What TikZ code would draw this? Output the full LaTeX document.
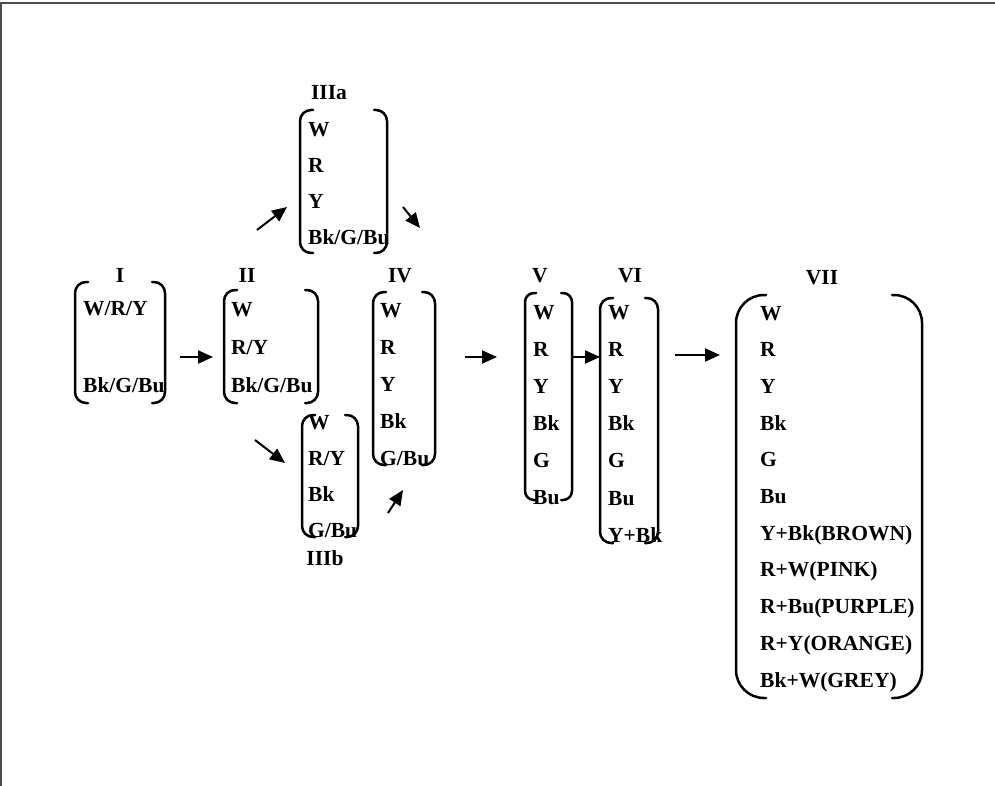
\documentclass[tikz,border=0pt]{standalone}
\usepackage{fontspec}
\setmainfont{Liberation Serif}
\usetikzlibrary{calc,arrows.meta}
\tikzset{
  frame/.style 2 args={inner sep=0pt, outer sep=0pt, minimum width=#1pt, minimum height=#2pt},
  item/.style={font=\fontsize{21.5}{25}\selectfont\bfseries, anchor=west, inner sep=0pt, text height=14pt, text depth=0pt},
  lbl/.style={font=\fontsize{21.5}{25}\selectfont\bfseries, inner sep=0pt, text height=14pt, text depth=0pt},
  brkline/.style={line width=2.5pt, line cap=round},
  arr/.style={line width=2pt, -{Triangle[length=15pt,width=13pt]}},
  border/.style={line width=1.6pt, black!70},
}
\newcommand\mybrackets[2][11]{%
  \draw[brkline, rounded corners=#1pt] ($(#2.north west)+(#1+2,0)$) -- (#2.north west) -- (#2.south west) -- ($(#2.south west)+(#1+2,0)$);
  \draw[brkline, rounded corners=#1pt] ($(#2.north east)+(-#1-2,0)$) -- (#2.north east) -- (#2.south east) -- ($(#2.south east)+(-#1-2,0)$);
}
\begin{document}
\begin{tikzpicture}[x=1pt,y=-1pt]
\useasboundingbox (0,0) rectangle (995,786);
\draw[border] (1,786) -- (1,3) -- (995,3);

% frames
\node[frame={90}{121}] (I) at (120,342.5) {};
\node[frame={94}{113}] (II) at (271,346.5) {};
\node[frame={87}{143}] (IIIa) at (343.5,181.5) {};
\node[frame={56}{122}] (IIIb) at (330,476) {};
\node[frame={62}{173}] (IV) at (404,378.5) {};
\node[frame={47}{207}] (V) at (548.5,396.5) {};
\node[frame={58}{245}] (VI) at (629,420.5) {};
\node[frame={186}{403}] (VII) at (829,496.5) {};

\mybrackets{I}
\mybrackets{II}
\mybrackets{IIIa}
\mybrackets{IIIb}
\mybrackets{IV}
\mybrackets[9]{V}
\mybrackets{VI}
\mybrackets[28]{VII}

% labels
\node[lbl] (lI) at (120,275) {I};
\node[lbl] (lII) at (247,275) {II};
\node[lbl] (lIIIa) at (329,93) {IIIa};
\node[lbl] (lIIIb) at (325,558) {IIIb};
\node[lbl] (lIV) at (400,275) {IV};
\node[lbl] (lV) at (540,275) {V};
\node[lbl] (lVI) at (630,275) {VI};
\node[lbl] (lVII) at (822,277) {VII};

% items
\node[item] (I-1) at (83,308) {W/R/Y};
\node[item] (I-2) at (83,385) {Bk/G/Bu};
\node[item] (II-1) at (231,309) {W};
\node[item] (II-2) at (231,347) {R/Y};
\node[item] (II-3) at (231,385) {Bk/G/Bu};
\foreach \t [count=\i] in {W,R,Y,Bk/G/Bu}
  \node[item] (IIIa-\i) at (308,{130+36*(\i-1)}) {\t};
\foreach \t [count=\i] in {W,R/Y,Bk,G/Bu}
  \node[item] (IIIb-\i) at (308,{422+36*(\i-1)}) {\t};
\foreach \t [count=\i] in {W,R,Y,Bk,G/Bu}
  \node[item] (IV-\i) at (380,{310+37*(\i-1)}) {\t};
\foreach \t [count=\i] in {W,R,Y,Bk,G,Bu}
  \node[item] (V-\i) at (533,{312+37*(\i-1)}) {\t};
\foreach \t [count=\i] in {W,R,Y,Bk,G,Bu,Y+Bk}
  \node[item] (VI-\i) at (608,{312+37.2*(\i-1)}) {\t};
\foreach \t [count=\i] in {W,R,Y,Bk,G,Bu,Y+Bk(BROWN),R+W(PINK),R+Bu(PURPLE),R+Y(ORANGE),Bk+W(GREY)}
  \node[item] (VII-\i) at (760,{313+36.7*(\i-1)}) {\t};

% arrows
\draw[arr] ($(I.east)+(15,14.5)$) -- ($(II.west)+(-11,10.5)$);
\draw[arr] ($(II.north)+(-14,-60)$) -- ($(IIIa.west)+(-13,25.5)$);
\draw[arr] ($(IIIa.east)+(16,25.5)$) -- ($(IV.north)+(16,-64)$);
\draw[arr] ($(II.south)+(-16,37)$) -- ($(IIIb.west)+(-17,-13)$);
\draw[arr] ($(IIIb.east)+(30,37)$) -- ($(IV.south)+(-1,25)$);
\draw[arr] ($(IV.east)+(30,-21.5)$) -- ($(V.west)+(-28,-39.5)$);
\draw[arr] ($(V.east)+(0,-39.5)$) -- ($(VI.west)+(0,-63.5)$);
\draw[arr] ($(VI.east)+(17,-65.5)$) -- ($(VII.west)+(-16,-141.5)$);
\end{tikzpicture}
\end{document}
